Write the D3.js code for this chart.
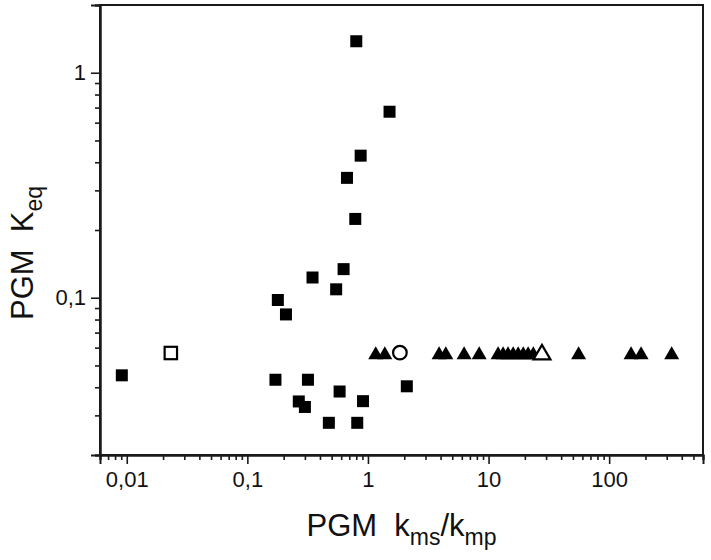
<!DOCTYPE html>
<html>
<head>
<meta charset="utf-8">
<script src="https://cdn.jsdelivr.net/npm/d3@7"></script>
<style>
  html, body { margin: 0; padding: 0; background: #fff; }
  svg { display: block; font-family: "Liberation Sans", Arial, sans-serif; }
</style>
</head>
<body>
<svg id="chart" width="711" height="560"></svg>
<script>
// ---- data ----
const squareX = [0.80, 1.51, 0.87, 0.67, 0.785, 0.628, 0.347, 0.545, 0.179, 0.209, 0.0091, 0.171, 0.318, 0.582, 0.267, 0.300, 0.474, 0.815, 0.91, 2.10];
const squareY = [1.38, 0.671, 0.428, 0.341, 0.224, 0.134, 0.123, 0.109, 0.0977, 0.0843, 0.0452, 0.0432, 0.0432, 0.0383, 0.0346, 0.0327, 0.0278, 0.0278, 0.0347, 0.0404];
const triangleX = [1.16, 1.38, 3.89, 4.42, 6.27, 8.36, 12.0, 13.2, 14.5, 16.0, 17.6, 19.4, 21.3, 23.5, 55.8, 152, 184, 330];
const triangleY = [0.057, 0.057, 0.057, 0.057, 0.057, 0.057, 0.057, 0.057, 0.057, 0.057, 0.057, 0.057, 0.057, 0.057, 0.057, 0.057, 0.057, 0.057];
const openSquareX = [0.0232];
const openSquareY = [0.0568];
const openCircleX = [1.84];
const openCircleY = [0.057];
const openTriangleX = [27.7];
const openTriangleY = [0.057];
const xTickValues = [0.01, 0.1, 1, 10, 100];
const xTickLabels = ["0,01", "0,1", "1", "10", "100"];
const yTickValues = [0.1, 1];
const yTickLabels = ["0,1", "1"];
const xDomain = [0.006, 600];
const yDomain = [0.02, 2];

// ---- layout ----
const margin = { left: 100, top: 5, right: 8, bottom: 105 };
const W = 711, H = 560;
const pw = W - margin.left - margin.right;
const ph = H - margin.top - margin.bottom;

const svg = d3.select("#chart");
const g = svg.append("g").attr("transform", `translate(${margin.left},${margin.top})`);

const x = d3.scaleLog().domain(xDomain).range([0, pw]);
const y = d3.scaleLog().domain(yDomain).range([ph, 0]);

// minor ticks
function minorTicks(domain) {
  const out = [];
  for (let e = Math.floor(Math.log10(domain[0])); e <= Math.ceil(Math.log10(domain[1])); e++) {
    for (let m = 1; m <= 9; m++) {
      const v = m * Math.pow(10, e);
      if (v >= domain[0] * 0.9999 && v <= domain[1] * 1.0001 && m !== 1) out.push(v);
    }
  }
  return out;
}

const axisColor = "#1a1a1a";

// frame
g.append("rect").attr("x", 0).attr("y", 0).attr("width", pw).attr("height", ph)
  .attr("fill", "none").attr("stroke", axisColor).attr("stroke-width", 2);

// x axis
const xAxisMajor = d3.axisBottom(x).tickValues(xTickValues)
  .tickFormat((d, i) => xTickLabels[i]).tickSize(9).tickPadding(7);
const xAxisMinor = d3.axisBottom(x).tickValues(minorTicks(xDomain)).tickFormat("").tickSize(5);
const xg1 = g.append("g").attr("transform", `translate(0,${ph})`).call(xAxisMinor);
const xg2 = g.append("g").attr("transform", `translate(0,${ph})`).call(xAxisMajor);

// y axis
const yAxisMajor = d3.axisLeft(y).tickValues(yTickValues)
  .tickFormat((d, i) => yTickLabels[i]).tickSize(9).tickPadding(5);
const yAxisMinor = d3.axisLeft(y).tickValues(minorTicks(yDomain)).tickFormat("").tickSize(5);
const yg1 = g.append("g").call(yAxisMinor);
const yg2 = g.append("g").call(yAxisMajor);

[xg1, xg2, yg1, yg2].forEach(a => {
  a.select(".domain").attr("stroke", axisColor).attr("stroke-width", 2);
  a.selectAll(".tick line").attr("stroke", axisColor).attr("stroke-width", 1.6);
  a.selectAll(".tick text").attr("fill", "#111").style("font-size", "22px")
    .style("font-family", '"Liberation Sans", Arial, sans-serif');
});

// ---- markers ----
const sq = 12;
g.append("g").selectAll("rect").data(squareX.map((v, i) => ({ x: v, y: squareY[i] })))
  .join("rect")
  .attr("x", d => x(d.x) - sq / 2).attr("y", d => y(d.y) - sq / 2)
  .attr("width", sq).attr("height", sq).attr("fill", "#000");

function triPath(w, h) {
  return `M0,${-h / 2}L${w / 2},${h / 2}L${-w / 2},${h / 2}Z`;
}
g.append("g").selectAll("path").data(triangleX.map((v, i) => ({ x: v, y: triangleY[i] })))
  .join("path")
  .attr("transform", d => `translate(${x(d.x)},${y(d.y)})`)
  .attr("d", triPath(15, 13)).attr("fill", "#000");

g.append("g").selectAll("rect").data(openSquareX.map((v, i) => ({ x: v, y: openSquareY[i] })))
  .join("rect")
  .attr("x", d => x(d.x) - 6.2).attr("y", d => y(d.y) - 6.2)
  .attr("width", 12.4).attr("height", 12.4)
  .attr("fill", "#fff").attr("stroke", "#000").attr("stroke-width", 2.2);

g.append("g").selectAll("path").data(openTriangleX.map((v, i) => ({ x: v, y: openTriangleY[i] })))
  .join("path")
  .attr("transform", d => `translate(${x(d.x)},${y(d.y) - 0.5})`)
  .attr("d", triPath(17, 14.5))
  .attr("fill", "#fff").attr("stroke", "#000").attr("stroke-width", 2.2).attr("stroke-linejoin", "miter");

g.append("g").selectAll("circle").data(openCircleX.map((v, i) => ({ x: v, y: openCircleY[i] })))
  .join("circle")
  .attr("cx", d => x(d.x)).attr("cy", d => y(d.y)).attr("r", 6.8)
  .attr("fill", "#fff").attr("stroke", "#000").attr("stroke-width", 2.2);

// ---- axis titles ----
const xt = svg.append("text")
  .attr("x", margin.left + pw / 2).attr("y", 536)
  .attr("text-anchor", "middle").attr("fill", "#111")
  .style("font-size", "31px");
xt.append("tspan").text("PGM\u00A0\u00A0k");
xt.append("tspan").attr("dy", 9).style("font-size", "23px").text("ms");
xt.append("tspan").attr("dy", -9).text("/k");
xt.append("tspan").attr("dy", 9).style("font-size", "23px").text("mp");

const yt = svg.append("text")
  .attr("transform", `translate(33,253) rotate(-90)`)
  .attr("text-anchor", "middle").attr("fill", "#111")
  .style("font-size", "31px");
yt.append("tspan").text("PGM\u00A0\u00A0K");
yt.append("tspan").attr("dy", 9).style("font-size", "23px").text("eq");
</script>
</body>
</html>
